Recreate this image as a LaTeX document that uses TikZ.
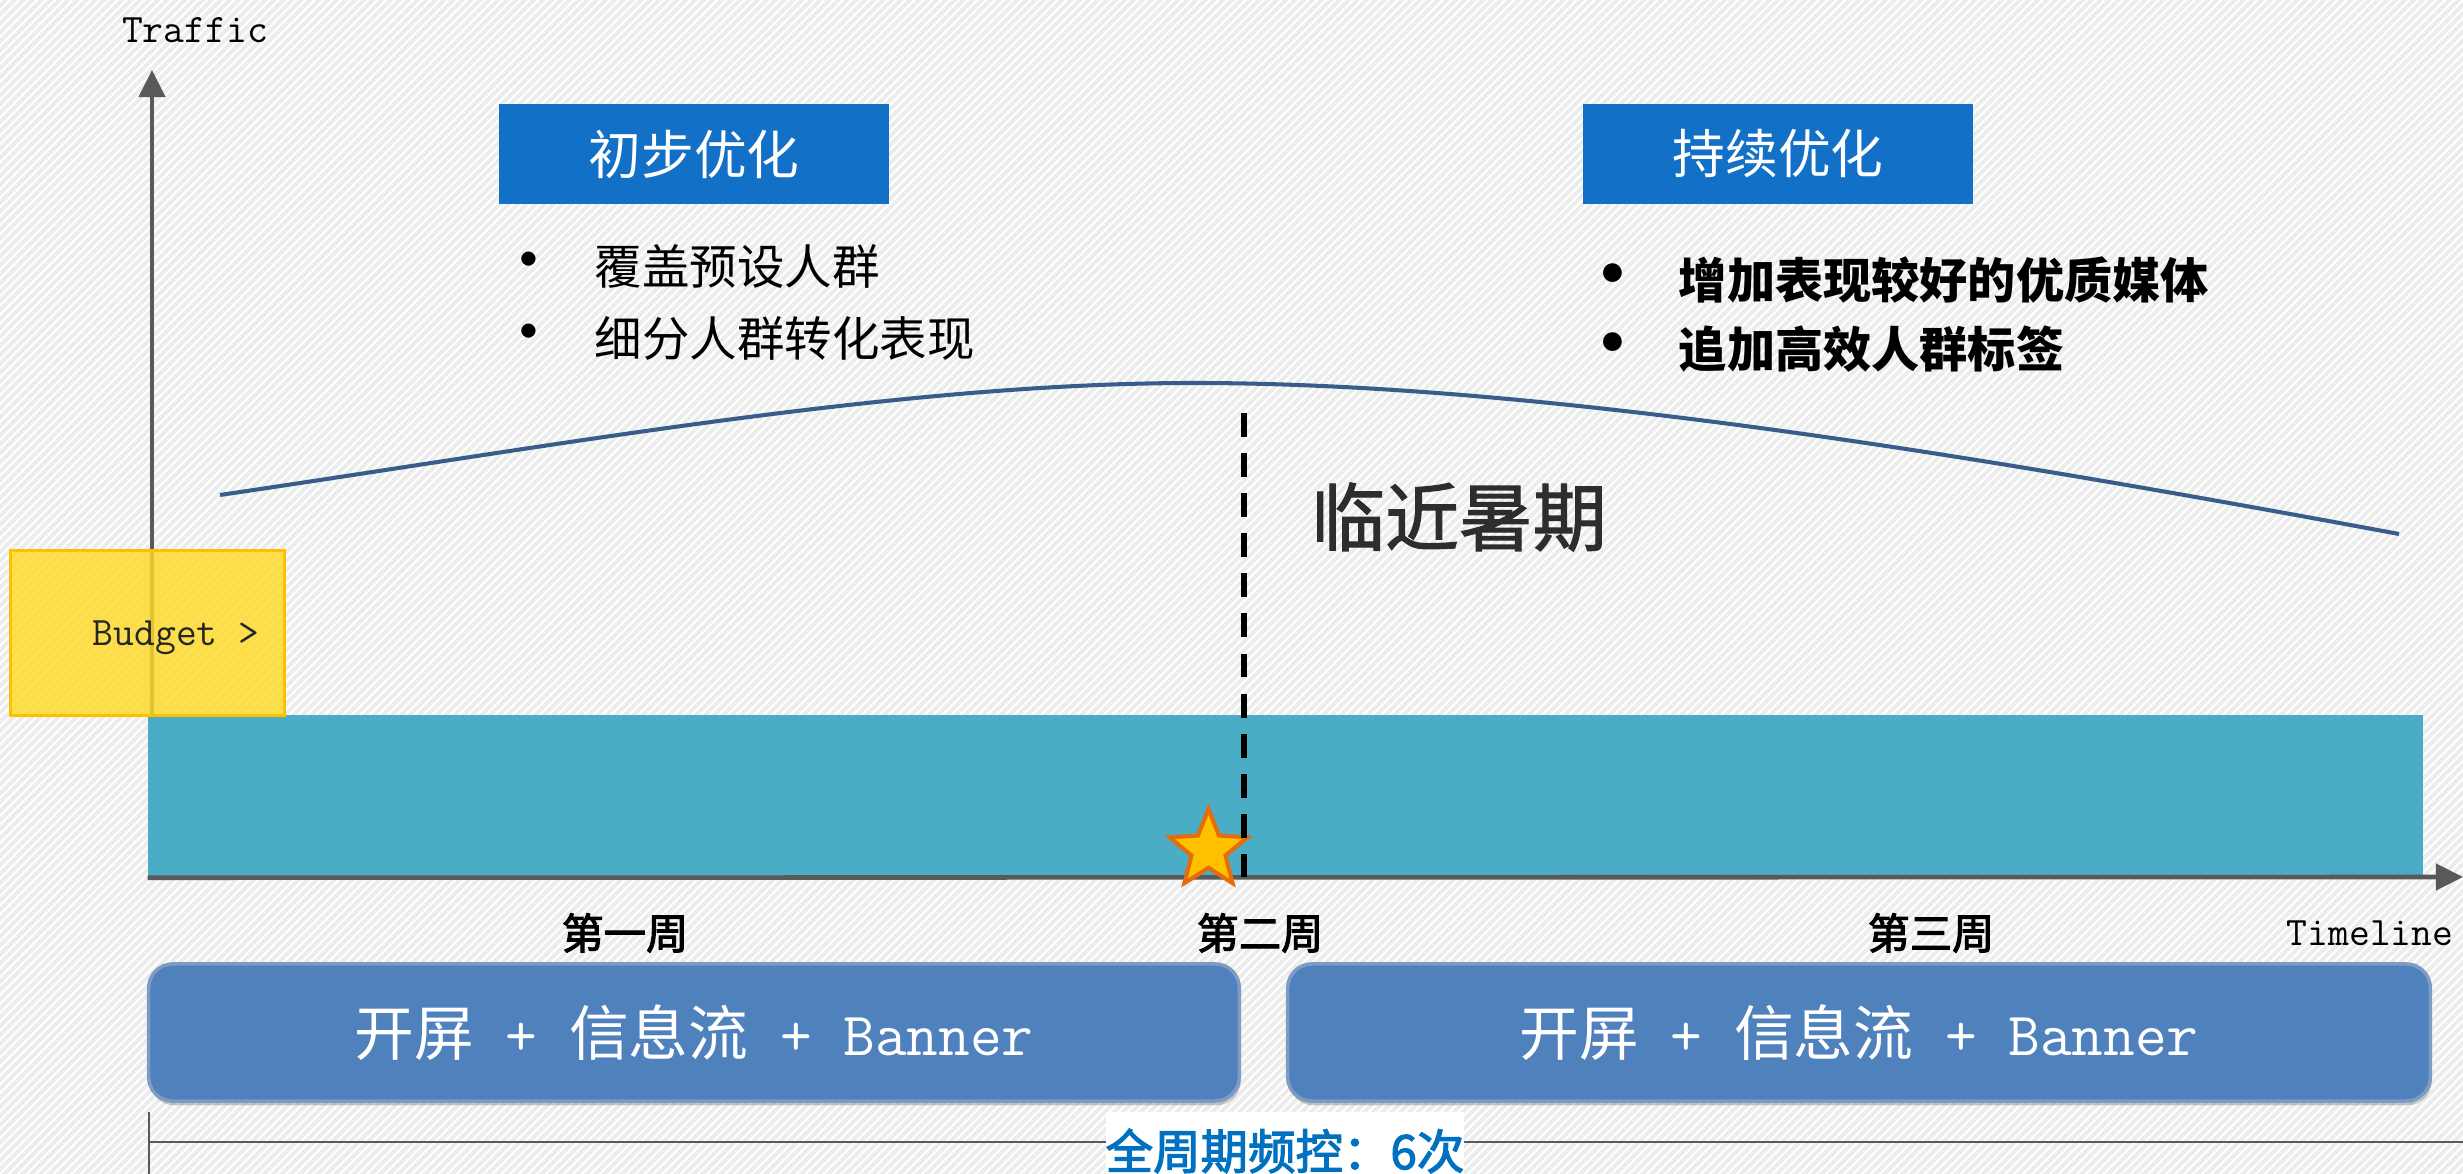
\documentclass[tikz,border=0pt]{standalone}
\usepackage{fontspec}
\newfontfamily\cjk{Noto Sans CJK SC}
\newfontfamily\cjkmid{Noto Sans CJK SC}[FakeBold=2.5]
\newfontfamily\cjksemi{Noto Sans CJK SC}[FakeBold=1.6]
\usetikzlibrary{arrows.meta,shapes.geometric,patterns.meta,shadows}
\definecolor{bggray}{RGB}{236,236,236}
\definecolor{axisgray}{RGB}{89,89,89}
\definecolor{tealbar}{RGB}{75,172,198}
\definecolor{titleblue}{RGB}{18,112,198}
\definecolor{phaseblue}{RGB}{79,129,189}
\definecolor{phaseedge}{RGB}{125,155,195}
\definecolor{curveblue}{RGB}{56,93,138}
\definecolor{budgetfill}{RGB}{255,218,40}
\definecolor{budgetedge}{RGB}{255,192,0}
\definecolor{starfill}{RGB}{255,192,0}
\definecolor{staredge}{RGB}{228,108,10}
\definecolor{freqblue}{RGB}{0,112,192}
\definecolor{darktext}{RGB}{45,45,48}
\newcommand{\phcjk}[1]{{\cjk\fontsize{17}{20}\selectfont #1}}
\newcommand{\bigbul}{\makebox[0pt]{\smash{\cjk\fontsize{19}{19}\selectfont •}}}
\begin{document}
\begin{tikzpicture}[x=0.01cm,y=-0.01cm,
  axisline/.style={draw=axisgray,line width=1.3pt,-{Triangle[width=7.4pt,length=7.7pt]}},
  axlbl/.style={font=\ttfamily\fontsize{11.5}{13}\selectfont,text=black,inner sep=0},
  titlebox/.style={fill=titleblue,minimum width=3.9cm,minimum height=1.0cm,inner sep=0,
    text=white,font=\cjk\fontsize{15}{18}\selectfont},
  bullets/.style={anchor=west,align=left,inner sep=0,text=black},
  weeklbl/.style={font=\cjkmid\fontsize{12}{14}\selectfont,text=black,inner sep=0},
  phase/.style={fill=phaseblue,draw=phaseedge,line width=1pt,rounded corners=0.24cm,
    minimum height=1.37cm,inner sep=0,text=white,font=\ttfamily\fontsize{17.5}{20}\selectfont,
    drop shadow={shadow xshift=0.4pt,shadow yshift=-1.2pt,fill=black,opacity=0.2}},
  curveline/.style={draw=curveblue,line width=1.15pt},
  dashline/.style={draw=black,line width=1.7pt,dash pattern=on 6.8pt off 4.6pt},
  bracket/.style={draw=axisgray,line width=0.6pt}]
\useasboundingbox (0,0) rectangle (2463,1174);
\clip (0,0) rectangle (2463,1174);
% background
\fill[bggray] (0,0) rectangle (2463,1174);
\fill[pattern={Lines[angle=45,distance=1.8pt,line width=0.6pt]},pattern color=white] (0,0) rectangle (2463,1174);
% axes
\coordinate (O) at (152,877);
\coordinate (ytip) at (152,70);
\coordinate (xtip) at (2463,877);
\draw[axisline] (O) -- (ytip);
\node[fill=tealbar,minimum width=22.73cm,minimum height=1.62cm,inner sep=0,draw=none] (bar) at (1285.5,796) {};
\draw[axisline] (bar.south west) -- (xtip);
\node[axlbl] (traffic) at (195,30) {Traffic};
\node[axlbl] (timeline) at (2370,933) {Timeline};
% budget
\node[fill=budgetfill,fill opacity=0.82,draw=budgetedge,line width=0.85pt,minimum width=2.73cm,minimum height=1.64cm,inner sep=0] (budget) at (147.5,633) {};
\node[axlbl,text=black!85] (budgetlbl) at (176,638) {Budget >};
% curve
\coordinate (c0) at (220,495);
\coordinate (c1) at (1194,383);
\coordinate (c2) at (2399,534);
\draw[curveline] (c0) .. controls (560,445) and (900,383) .. (c1) .. controls (1550,383) and (2000,460) .. (c2);
% star and dashed line
\node[star,star points=5,star point ratio=2.3,minimum size=0.82cm,inner sep=0,fill=starfill,draw=staredge,line width=1.15pt] (star) at (1208.5,850) {};
\coordinate (dtop) at (1244,413);
\coordinate (dbot) at (1244,877);
\draw[dashline] (dtop) -- (dbot);
\node[font=\cjksemi\fontsize{21}{25}\selectfont,text=darktext,inner sep=0] (summer) at (1459,517) {临近暑期};
% titles
\node[titlebox] (t1) at (694,154) {初步优化};
\node[titlebox] (t2) at (1778,154) {持续优化};
\node[bullets,font=\cjk\fontsize{13.5}{20.2}\selectfont] (b1) at (528,302.5)
  {\bigbul\hspace{18.8pt}覆盖预设人群\\\bigbul\hspace{18.8pt}细分人群转化表现};
\node[bullets,font=\cjk\bfseries\fontsize{13.7}{19.6}\selectfont] (b2) at (1612,314.5)
  {\bigbul\hspace{18.8pt}增加表现较好的优质媒体\\\bigbul\hspace{18.8pt}追加高效人群标签};
% weeks
\node[weeklbl] (w1) at (625,933) {第一周};
\node[weeklbl] (w2) at (1260,933) {第二周};
\node[weeklbl] (w3) at (1931,933) {第三周};
% phases
\node[phase,minimum width=10.9cm] (p1) at (694,1032.5) {\phcjk{开屏}\ +\ \phcjk{信息流}\ +\ Banner};
\node[phase,minimum width=11.42cm] (p2) at (1859,1032.5) {\phcjk{开屏}\ +\ \phcjk{信息流}\ +\ Banner};
% bracket
\coordinate (brTop) at (149,1112);
\coordinate (brBot) at (149,1190);
\coordinate (brL) at (149,1142);
\coordinate (brR) at (2470,1142);
\draw[bracket] (brTop) -- (brBot);
\draw[bracket] (brL) -- (brR);
\node[fill=white,minimum width=3.52cm,minimum height=0.78cm,inner sep=0,text=freqblue,font=\cjkmid\fontsize{13.5}{15}\selectfont] (freq) at (1285,1151) {全周期频控：6次};
\end{tikzpicture}
\end{document}
